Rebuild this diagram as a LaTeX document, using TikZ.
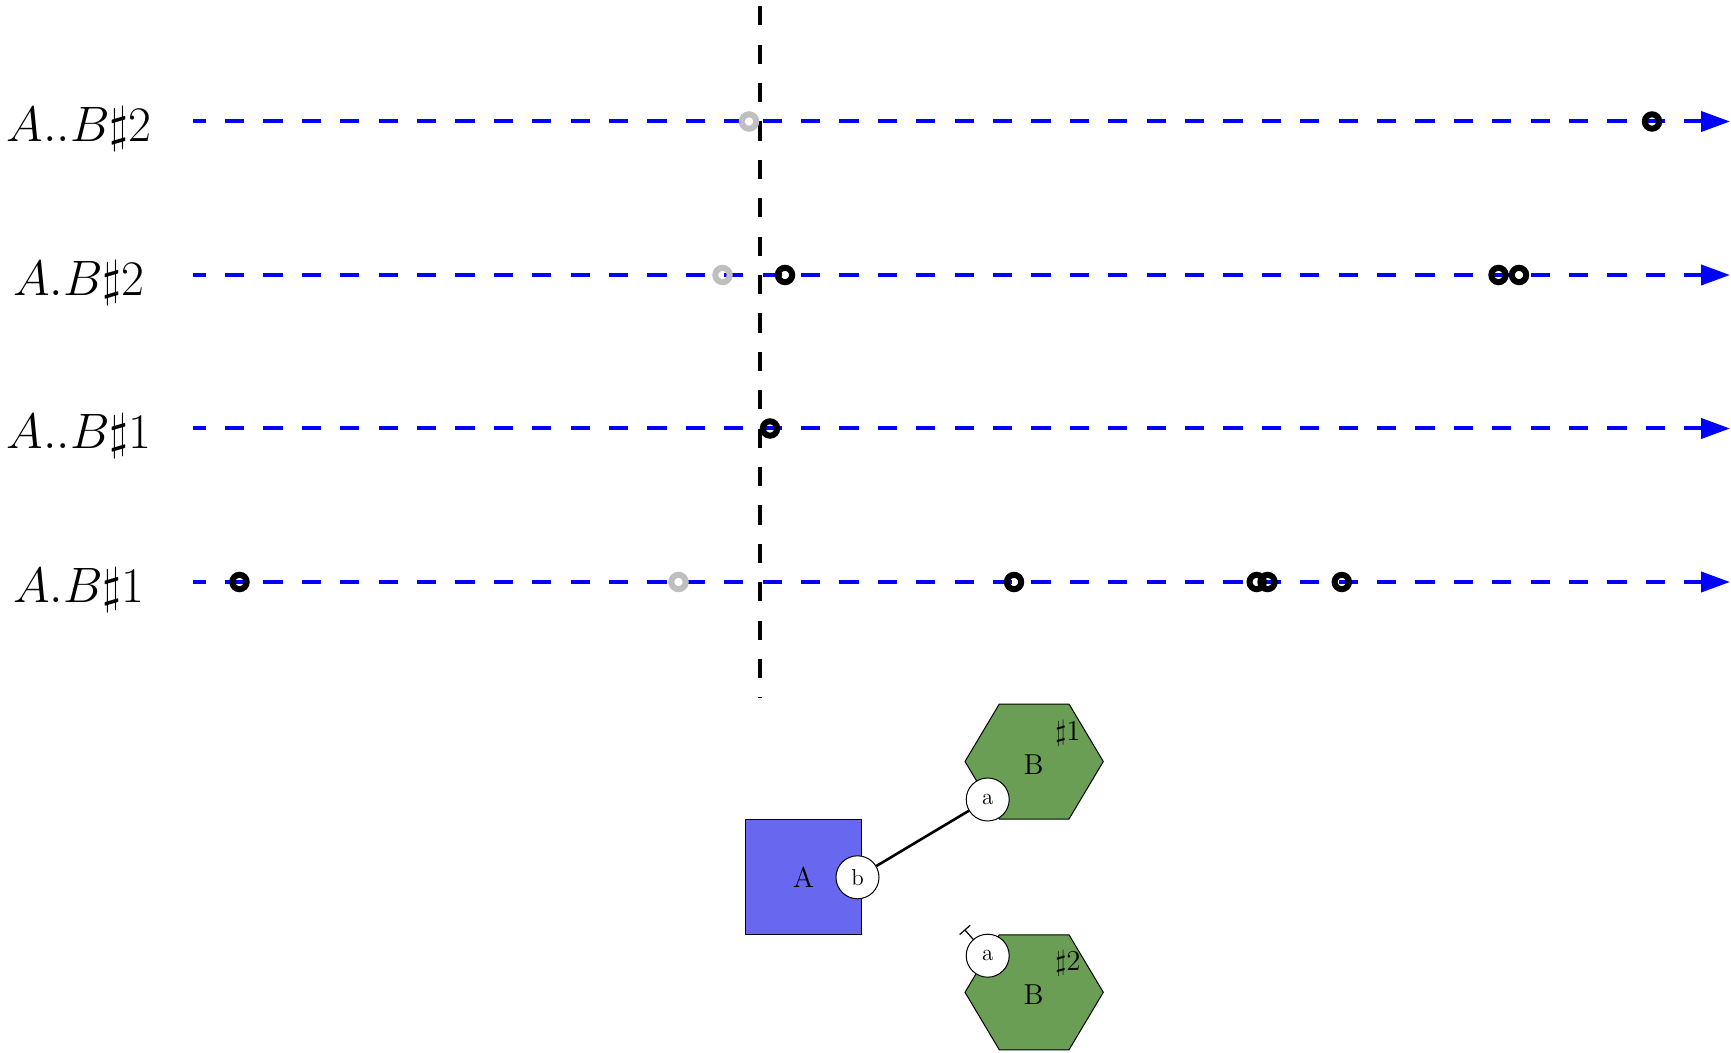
\documentclass[tikz,border=0pt]{standalone}
\usetikzlibrary{arrows.meta}
\definecolor{compblue}{RGB}{103,103,240}
\definecolor{compgreen}{RGB}{106,158,85}
\definecolor{ghost}{RGB}{191,191,191}
\begin{document}
\begin{tikzpicture}[x=0.5pt,y=-0.5pt,
  rowline/.style={blue, line width=2pt, dash pattern=on 9.6pt off 9.6pt, dash phase=3.25pt,
    -{Triangle[length=14.5pt,width=10pt]}},
  cutline/.style={black, line width=2pt, dash pattern=on 9.6pt off 9.6pt},
  rowlabel/.style={anchor=base, inner sep=0pt, font=\fontsize{28.5}{33}\selectfont},
  ring/.style={circle, draw=black, line width=3pt, minimum size=7.2pt, inner sep=0pt},
  ghostring/.style={ring, draw=ghost},
  agent/.style={draw=black, line width=0.5pt, inner sep=0pt, font=\fontsize{14.4}{17}\selectfont},
  site/.style={circle, draw=black, fill=white, line width=0.5pt, minimum size=21.5pt, inner sep=0pt,
    font=\fontsize{11.5}{13}\selectfont},
  tag/.style={inner sep=0pt, font=\fontsize{14.4}{17}\selectfont},
  bond/.style={line width=1.3pt},
]
\useasboundingbox (0,0) rectangle (1731,1053);

% vertical cut
\coordinate (cuttop) at (760,6.2);
\coordinate (cutbot) at (760,698);
\draw[cutline] (cuttop) -- (cutbot);

% row labels
\node[rowlabel] (l1) at (79,142) {$A..B\sharp2$};
\node[rowlabel] (l2) at (79,295.5) {$A.B\sharp2$};
\node[rowlabel] (l3) at (79,449) {$A..B\sharp1$};
\node[rowlabel] (l4) at (79,602.5) {$A.B\sharp1$};

% row lines
\coordinate (s1) at (193,121.5); \coordinate (e1) at (1730,121.5);
\coordinate (s2) at (193,275);   \coordinate (e2) at (1730,275);
\coordinate (s3) at (193,428.5); \coordinate (e3) at (1730,428.5);
\coordinate (s4) at (193,582);   \coordinate (e4) at (1730,582);
\draw[rowline] (s1) -- (e1);
\draw[rowline] (s2) -- (e2);
\draw[rowline] (s3) -- (e3);
\draw[rowline] (s4) -- (e4);

% events
\node[ghostring] (g1) at (749,121.5) {};
\node[ring] (r1a) at (1652,121.5) {};

\node[ghostring] (g2) at (722.5,275) {};
\node[ring] (r2a) at (785,275) {};
\node[ring] (r2b) at (1498.5,275) {};
\node[ring] (r2c) at (1519,275) {};

\node[ring] (r3a) at (770,428.5) {};

\node[ring] (r4a) at (239.5,582) {};
\node[ghostring] (g4) at (678.5,582) {};
\node[ring] (r4b) at (1014,582) {};
\node[ring] (r4c) at (1256.7,582) {};
\node[ring] (r4d) at (1267.5,582) {};
\node[ring] (r4e) at (1341.8,582) {};

% agent A
\node[agent, fill=compblue, minimum size=57.75pt] (A) at (803.5,877) {A};

% hexagon B #1
\fill[compgreen, draw=black, line width=0.5pt]
  (965,761.5) -- (999.3,704) -- (1069,704) -- (1103.3,761.5) -- (1069,819) -- (999.3,819) -- cycle;
\node[tag] (B1) at (1033.5,764.5) {B};
\node[tag] (n1) at (1068,733) {$\sharp$1};

% hexagon B #2
\fill[compgreen, draw=black, line width=0.5pt]
  (965,992.3) -- (999.3,934.8) -- (1069,934.8) -- (1103.3,992.3) -- (1069,1049.8) -- (999.3,1049.8) -- cycle;
\node[tag] (B2) at (1033.5,995) {B};
\node[tag] (n2) at (1068,963.5) {$\sharp$2};

% sites
\node[site] (b) at (857.5,877.3) {b};
\node[site] (a1) at (987.7,799.5) {a};
\node[site] (a2) at (987.7,955.7) {a};

% bond
\draw[bond] (b) -- (a1);

% free site stub
\coordinate (stub) at (964.5,929.5);
\draw[line width=0.6pt, -{Bar[width=7pt]}] (a2) -- (stub);
\end{tikzpicture}
\end{document}
